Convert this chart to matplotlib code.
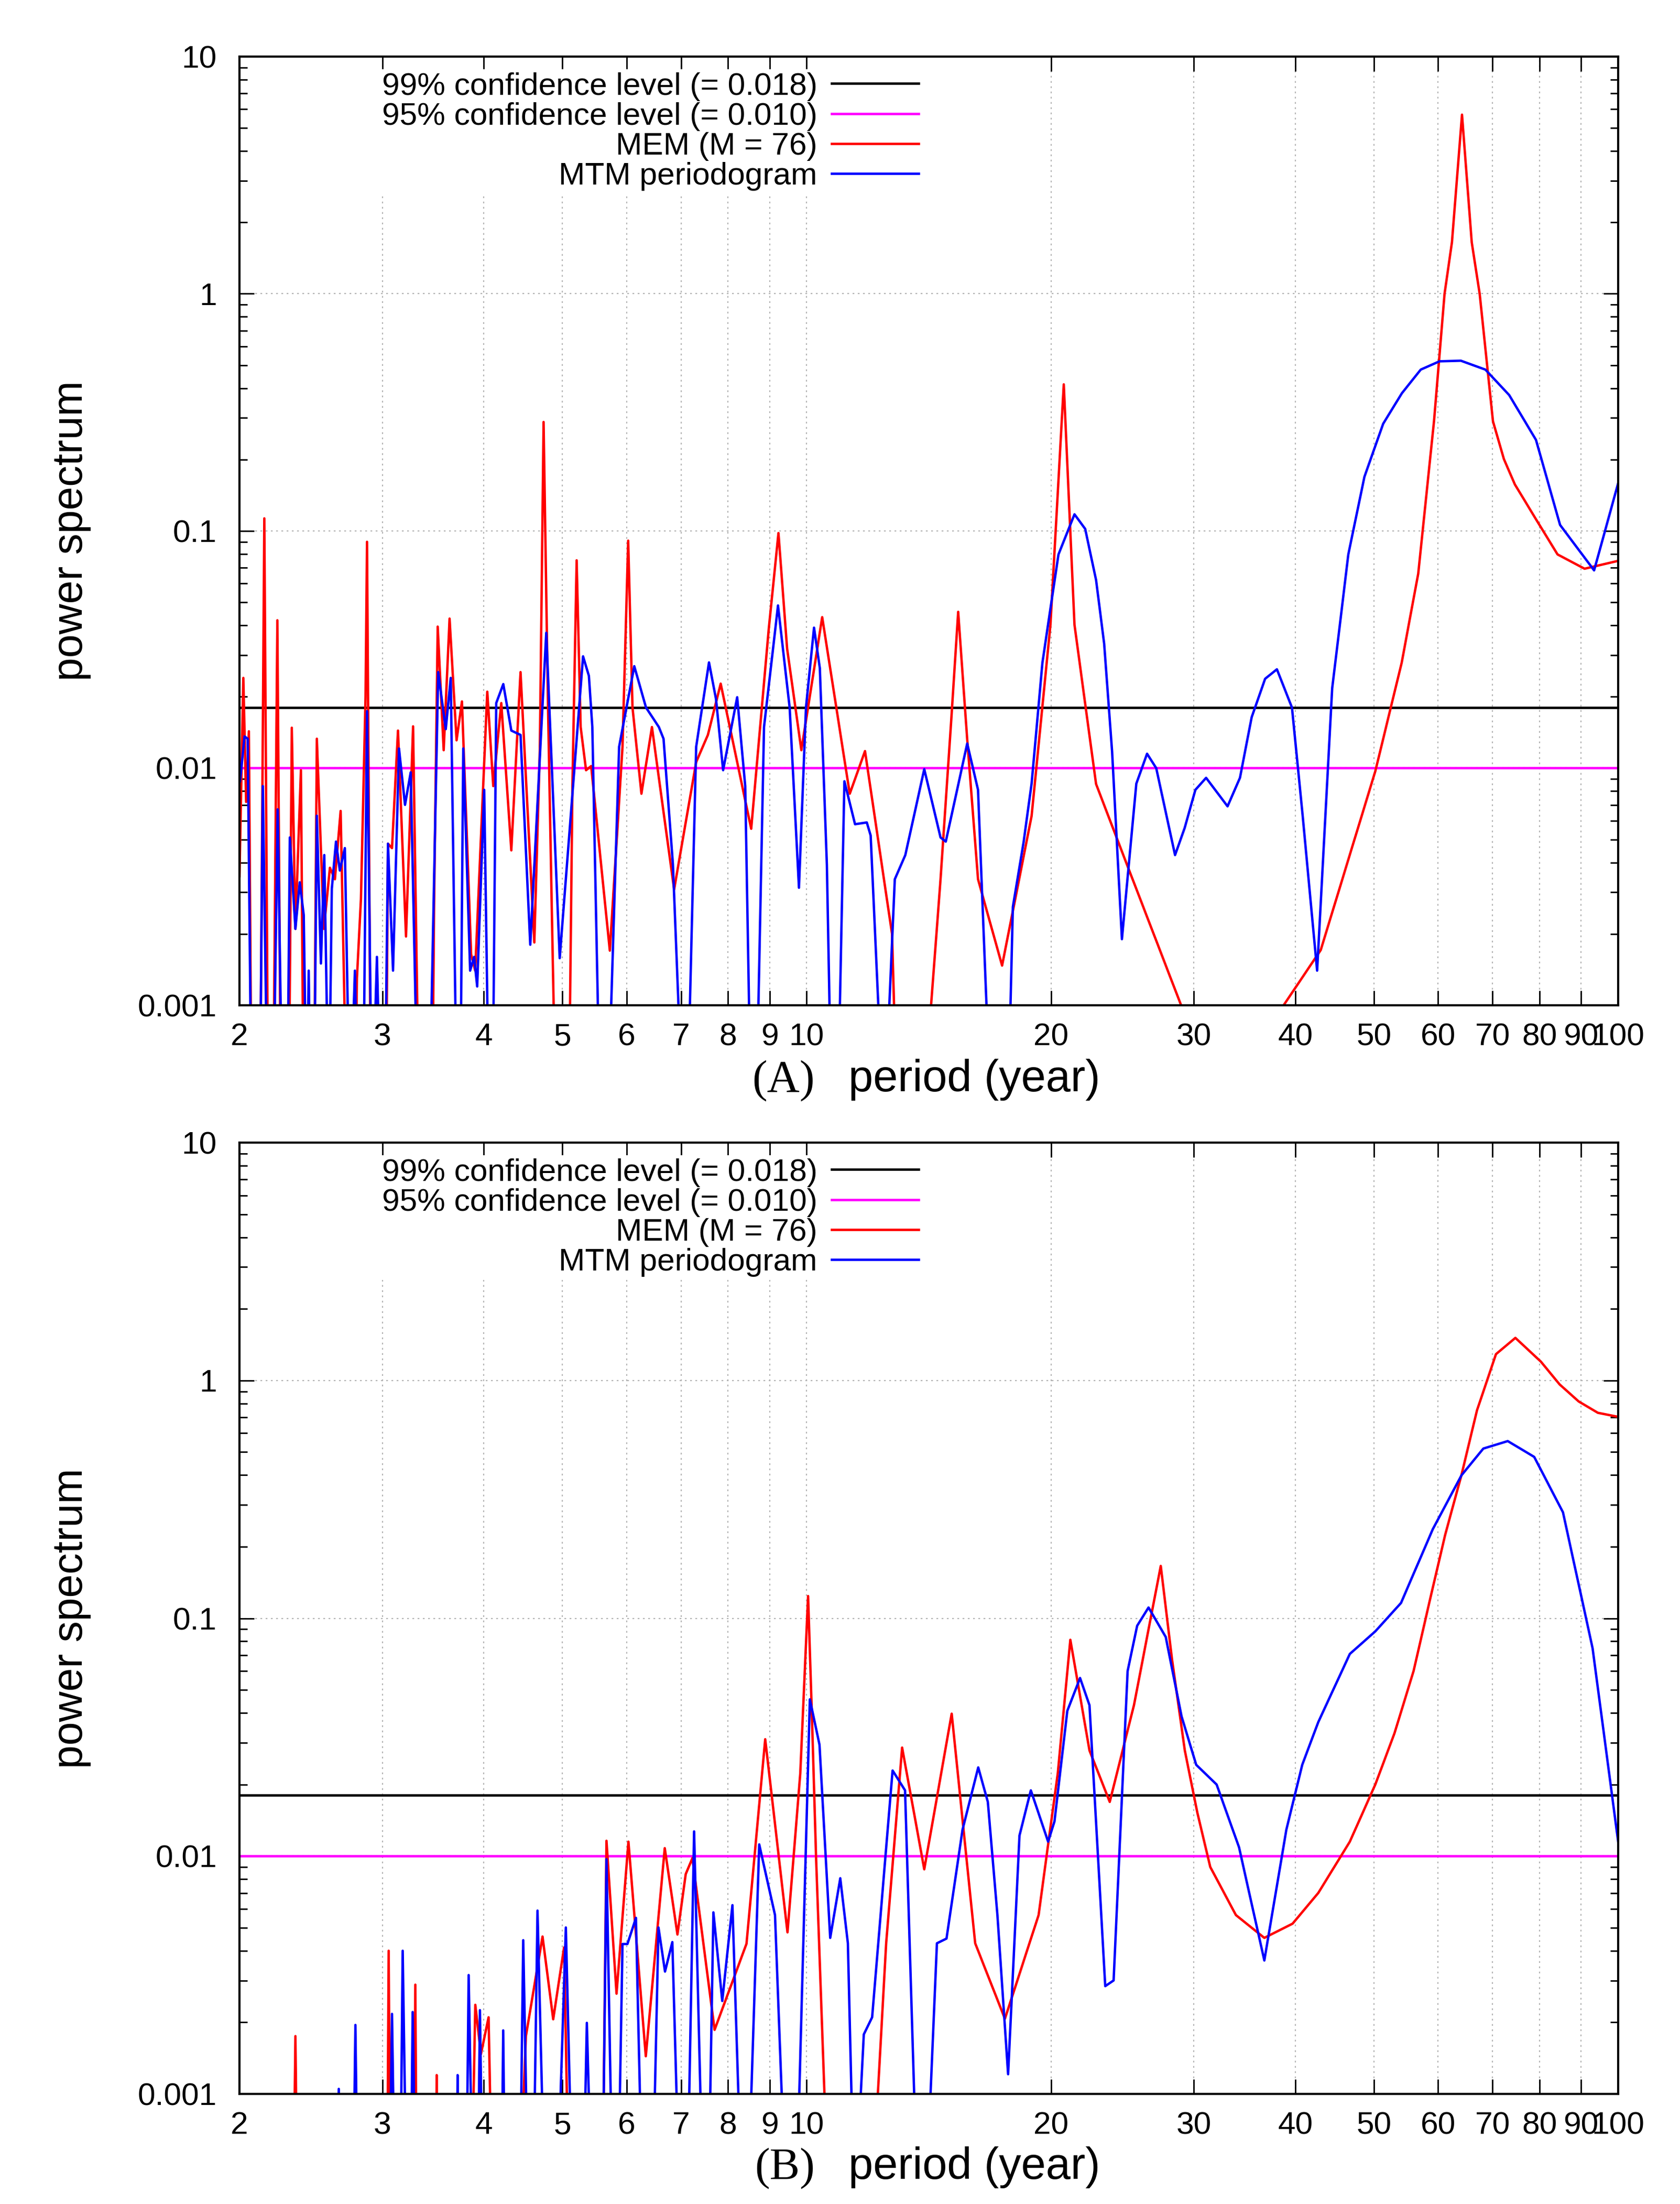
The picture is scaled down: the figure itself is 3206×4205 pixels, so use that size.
import matplotlib
matplotlib.use("Agg")
import matplotlib.pyplot as plt
from matplotlib.ticker import FixedLocator, FixedFormatter, LogLocator, NullFormatter, NullLocator

plt.rcParams['font.family'] = ['Liberation Sans', 'DejaVu Sans']

B = 0.0003  # value below the plotted floor (curve leaves the axes)

# ---------------- data: panel A ----------------
mem_a = [(2.000, 0.0035), (2.022, 0.024), (2.038, 0.0072), (2.054, 0.0143), (2.070, B),
         (2.120, B), (2.146, 0.113), (2.170, B),
         (2.200, B), (2.227, 0.042), (2.250, B),
         (2.300, B), (2.320, 0.0148), (2.344, 0.0021), (2.381, 0.0098), (2.400, B),
         (2.470, B), (2.491, 0.0133), (2.541, 0.0021), (2.585, 0.0038), (2.622, 0.0034),
         (2.665, 0.0066), (2.713, B),
         (2.775, B), (2.791, 0.0013), (2.823, 0.0028), (2.860, 0.020), (2.872, 0.090), (2.904, B),
         (3.030, B), (3.048, 0.0048), (3.083, 0.0046), (3.136, 0.0144), (3.208, 0.00195),
         (3.273, 0.0150), (3.330, B),
         (3.455, B), (3.474, 0.0027), (3.510, 0.0395), (3.570, 0.0119), (3.630, 0.0427),
         (3.703, 0.0131), (3.760, 0.0191), (3.859, 0.00164), (3.904, 0.0014), (4.040, 0.0210),
         (4.109, 0.0084), (4.204, 0.0188), (4.325, 0.0045), (4.440, 0.0254), (4.617, 0.00184),
         (4.690, 0.012), (4.740, 0.288), (4.800, 0.018), (4.850, 0.0027), (4.910, B),
         (5.090, B), (5.144, 0.0084), (5.206, 0.0752), (5.266, 0.0149), (5.347, 0.0098),
         (5.425, 0.0102), (5.720, 0.0017), (5.930, 0.0123), (6.026, 0.091), (6.100, 0.018),
         (6.257, 0.0078), (6.446, 0.0149), (6.865, 0.00308), (7.308, 0.0106), (7.555, 0.0138),
         (7.835, 0.0227), (8.543, 0.00555), (8.980, 0.0387), (9.230, 0.098), (9.460, 0.0319),
         (9.850, 0.0119), (10.45, 0.0433), (11.30, 0.0078), (11.80, 0.0118), (12.74, 0.0020),
         (12.94, B),
         (13.86, B), (14.62, 0.0034), (15.07, 0.0159), (15.37, 0.0456), (15.77, 0.0132),
         (16.26, 0.0034), (17.41, 0.00147), (18.93, 0.00628), (19.97, 0.0402), (20.74, 0.415),
         (21.38, 0.0402), (22.73, 0.00857), (24.53, 0.00434), (29.00, 0.00098), (30.00, B),
         (38.00, B), (38.70, 0.0010), (43.00, 0.00171), (50.20, 0.0097), (54.10, 0.0278),
         (56.70, 0.066), (59.30, 0.29), (61.10, 1.0), (62.40, 1.65), (64.20, 5.69),
         (66.00, 1.65), (67.50, 1.0), (70.10, 0.29), (72.30, 0.201), (74.60, 0.157),
         (79.20, 0.112), (84.20, 0.0796), (90.90, 0.0693), (100.0, 0.0748)]

mtm_a = [(2.003, 0.0088), (2.029, 0.0136), (2.047, 0.0133), (2.070, B),
         (2.118, B), (2.137, 0.0084), (2.167, B),
         (2.200, B), (2.229, 0.0067), (2.260, B),
         (2.290, B), (2.307, 0.0051), (2.344, 0.0021), (2.373, 0.0033), (2.400, 0.0024), (2.421, B),
         (2.434, 0.0014), (2.448, B),
         (2.470, B), (2.491, 0.0063), (2.520, 0.0015), (2.544, 0.0043), (2.577, B),
         (2.599, 0.0031), (2.630, 0.0049), (2.659, 0.0037), (2.697, 0.0046), (2.736, B),
         (2.775, 0.0014), (2.799, B),
         (2.840, B), (2.872, 0.0174), (2.913, B), (2.954, 0.0016), (2.988, B),
         (3.020, B), (3.048, 0.0048), (3.092, 0.0014), (3.145, 0.0121), (3.199, 0.0070),
         (3.251, 0.0096), (3.320, B),
         (3.425, B), (3.515, 0.0254), (3.591, 0.0146), (3.642, 0.024), (3.709, B),
         (3.740, B), (3.774, 0.0121), (3.848, 0.0014), (3.892, 0.0016), (3.926, 0.0012),
         (4.005, 0.0081), (4.062, B),
         (4.100, B), (4.144, 0.0188), (4.228, 0.0226), (4.325, 0.0144), (4.440, 0.0138),
         (4.564, 0.0018), (4.776, 0.0372), (4.962, 0.00158), (5.302, 0.0296), (5.390, 0.0245),
         (5.443, 0.0149), (5.568, B),
         (5.680, B), (5.873, 0.0123), (6.131, 0.0269), (6.339, 0.018), (6.574, 0.0149),
         (6.662, 0.0133), (6.841, 0.00394), (7.048, B),
         (7.118, B), (7.308, 0.0123), (7.579, 0.0279), (7.732, 0.0195), (7.889, 0.0098),
         (8.210, 0.0199), (8.400, 0.0084), (8.543, B),
         (8.658, B), (8.860, 0.0149), (9.218, 0.0485), (9.528, 0.018), (9.783, 0.00313),
         (9.980, 0.018), (10.21, 0.0391), (10.38, 0.0264), (10.59, 0.0039), (10.74, B),
         (10.91, B), (11.13, 0.0088), (11.47, 0.0058), (11.86, 0.0059), (11.99, 0.0052), (12.45, B),
         (12.84, 0.0034), (13.23, 0.0043), (13.96, 0.0099), (14.62, 0.0051), (14.84, 0.0049),
         (15.77, 0.0127), (16.26, 0.0081), (16.89, B),
         (17.68, B), (17.95, 0.0026), (18.51, 0.0049), (18.93, 0.0086), (19.52, 0.0278),
         (20.43, 0.0796), (21.38, 0.1175), (22.04, 0.102), (22.73, 0.0621), (23.26, 0.0334),
         (23.79, 0.0117), (24.46, 0.0019), (25.48, 0.0086), (26.27, 0.0115), (26.96, 0.0100),
         (28.44, 0.0043), (29.23, 0.0056), (30.13, 0.0081), (31.06, 0.0091), (33.01, 0.0069),
         (34.19, 0.0091), (35.35, 0.0164), (36.72, 0.0238), (37.97, 0.0261), (39.63, 0.018),
         (40.85, 0.0063), (42.56, 0.0014), (44.42, 0.0217), (46.50, 0.0796), (48.67, 0.169),
         (51.33, 0.283), (54.14, 0.381), (57.11, 0.479), (60.23, 0.519), (64.00, 0.522),
         (68.60, 0.479), (73.40, 0.374), (79.20, 0.242), (84.80, 0.106), (93.40, 0.0682),
         (100.0, 0.159)]

# ---------------- data: panel B ----------------
mem_b = [(2.000, B), (2.330, B), (2.344, 0.00175), (2.358, B),
         (3.040, B), (3.054, 0.0040), (3.068, B),
         (3.280, B), (3.294, 0.00288), (3.308, B),
         (3.490, B), (3.500, 0.0012), (3.510, B),
         (3.860, B), (3.905, 0.00237), (3.968, 0.00147), (4.055, 0.0021), (4.100, B),
         (4.420, B), (4.508, 0.00175), (4.726, 0.00459), (4.871, 0.00206), (5.024, 0.00413),
         (5.097, B),
         (5.600, B), (5.666, 0.0116), (5.830, 0.00264), (6.030, 0.0115), (6.335, 0.00144),
         (6.685, 0.0108), (6.930, 0.00468), (7.095, 0.0084), (7.230, 0.0098), (7.700, 0.00186),
         (8.430, 0.00428), (8.890, 0.031), (9.470, 0.00478), (9.820, 0.0223), (10.04, 0.124),
         (10.15, 0.0387), (10.27, 0.0098), (10.65, B),
         (12.00, B), (12.53, 0.0043), (13.11, 0.0286), (13.96, 0.0088), (15.09, 0.0397),
         (16.13, 0.0043), (17.55, 0.00207), (19.31, 0.00565), (20.39, 0.0223), (21.13, 0.0812),
         (22.31, 0.0278), (23.63, 0.0169), (25.31, 0.0431), (27.31, 0.166), (28.20, 0.067),
         (29.24, 0.0278), (30.30, 0.0152), (31.43, 0.0090), (33.80, 0.00565), (36.64, 0.00453),
         (39.70, 0.0052), (42.70, 0.0070), (46.70, 0.0115), (50.20, 0.0200), (53.00, 0.0328),
         (55.96, 0.060), (58.50, 0.116), (61.20, 0.224), (64.10, 0.40), (67.00, 0.75),
         (70.70, 1.29), (74.70, 1.51), (80.30, 1.20), (84.70, 0.962), (89.40, 0.816),
         (94.40, 0.731), (100.0, 0.703)]

mtm_b = [(2.000, B), (2.640, B), (2.651, 0.00105), (2.662, B),
         (2.760, B), (2.779, 0.00195), (2.798, B),
         (3.060, B), (3.083, 0.00217), (3.110, B),
         (3.155, B), (3.178, 0.0040), (3.215, B),
         (3.250, B), (3.269, 0.00221), (3.300, B),
         (3.700, B), (3.714, 0.0012), (3.728, B),
         (3.805, B), (3.832, 0.00316), (3.880, B),
         (3.930, B), (3.957, 0.00225), (3.990, B),
         (4.205, B), (4.227, 0.00185), (4.250, B),
         (4.430, B), (4.474, 0.00443), (4.540, B),
         (4.600, B), (4.659, 0.0059), (4.760, B),
         (4.920, B), (5.049, 0.00501), (5.150, B),
         (5.300, B), (5.359, 0.00199), (5.440, B),
         (5.600, B), (5.666, 0.0097), (5.770, B),
         (5.850, B), (5.930, 0.00427), (6.013, 0.00427), (6.160, 0.0055), (6.280, B),
         (6.450, B), (6.567, 0.00501), (6.690, 0.00327), (6.830, 0.00435), (6.980, B),
         (7.120, B), (7.265, 0.0127), (7.460, B),
         (7.560, B), (7.674, 0.0058), (7.870, 0.00246), (8.100, 0.00622), (8.330, B),
         (8.450, B), (8.740, 0.0112), (9.140, 0.00565), (9.440, B),
         (9.700, B), (10.09, 0.0456), (10.37, 0.0294), (10.69, 0.00453), (11.00, 0.00807),
         (11.24, 0.0043), (11.45, B), (11.76, 0.00178), (12.04, 0.0021), (12.76, 0.0229),
         (13.22, 0.0189), (13.71, B),
         (14.00, B), (14.47, 0.0043), (14.87, 0.0045), (15.56, 0.0129), (16.27, 0.0236),
         (16.72, 0.0169), (17.18, 0.00565), (17.71, 0.00121), (18.29, 0.0122), (18.89, 0.0189),
         (19.84, 0.0115), (20.20, 0.0140), (20.95, 0.0408), (21.72, 0.0561), (22.31, 0.0431),
         (23.33, 0.00284), (23.89, 0.0030), (24.86, 0.060), (25.54, 0.093), (26.38, 0.111),
         (27.70, 0.0834), (28.97, 0.0387), (30.20, 0.0242), (32.00, 0.0200), (34.10, 0.0109),
         (36.64, 0.00364), (39.00, 0.0129), (40.80, 0.0242), (42.70, 0.0366), (46.70, 0.0708),
         (50.20, 0.0881), (54.00, 0.116), (59.10, 0.237), (64.10, 0.399), (68.20, 0.517),
         (73.10, 0.556), (78.80, 0.477), (85.50, 0.279), (93.00, 0.0748), (100.0, 0.0115)]

conf99 = 0.018
conf95 = 0.010
legend_labels = ['99% confidence level (= 0.018)', '95% confidence level (= 0.010)',
                 'MEM (M = 76)', 'MTM periodogram']
x_ticks = [2, 3, 4, 5, 6, 7, 8, 9, 10, 20, 30, 40, 50, 60, 70, 80, 90, 100]
x_tick_labels = [str(t) for t in x_ticks]
y_ticks = [0.001, 0.01, 0.1, 1, 10]
y_tick_labels = ['0.001', '0.01', '0.1', '1', '10']
panel_tags = ['(A)', '(B)']

fig = plt.figure(figsize=(32.06, 42.05), dpi=100)
ax_a = fig.add_axes([0.14255, 0.54388, 0.82065, 0.43044])
ax_b = fig.add_axes([0.14255, 0.04994, 0.82065, 0.43163])

LW = 3.3
FS = 43.5
for ax, mem, mtm, tag, lab_y in [(ax_a, mem_a, mtm_a, panel_tags[0], -0.0906),
                                 (ax_b, mem_b, mtm_b, panel_tags[1], -0.0893)]:
    ax.set_xscale('log')
    ax.set_yscale('log')
    ax.set_xlim(2, 100)
    ax.set_ylim(0.001, 10)

    h1 = ax.axhline(conf99, color='black', lw=LW, zorder=2)
    h2 = ax.axhline(conf95, color='#ff00ff', lw=LW, zorder=2)
    pm, vm = zip(*mem)
    h3, = ax.plot(pm, vm, color='#ff0000', lw=LW, zorder=3)
    pt, vt = zip(*mtm)
    h4, = ax.plot(pt, vt, color='#0000ff', lw=LW, zorder=4)

    ax.xaxis.set_major_locator(FixedLocator(x_ticks))
    ax.xaxis.set_major_formatter(FixedFormatter(x_tick_labels))
    ax.xaxis.set_minor_locator(NullLocator())
    ax.yaxis.set_major_locator(FixedLocator(y_ticks))
    ax.yaxis.set_major_formatter(FixedFormatter(y_tick_labels))
    ax.yaxis.set_minor_locator(LogLocator(base=10, subs=range(2, 10)))
    ax.yaxis.set_minor_formatter(NullFormatter())

    ax.tick_params(which='both', direction='in', top=True, right=True, width=2.0, colors='black')
    ax.tick_params(which='major', length=20, labelsize=FS)
    ax.tick_params(which='minor', length=11)
    ax.tick_params(axis='x', which='major', pad=24)
    ax.tick_params(axis='y', which='major', pad=31)

    ax.grid(True, which='major', linestyle=(0, (1.5, 3.0)), color='#b4b4b4', lw=1.6, zorder=0)
    ax.set_axisbelow(True)
    for s in ax.spines.values():
        s.set_linewidth(3.0)
        s.set_zorder(6)

    leg = ax.legend([h1, h2, h3, h4], legend_labels, loc='upper right',
                    bbox_to_anchor=(0.4949, 0.9870), bbox_transform=ax.transAxes,
                    markerfirst=False, frameon=True, fancybox=False, framealpha=1,
                    facecolor='white', edgecolor='none', borderpad=0.1, borderaxespad=0,
                    handlelength=2.75, handletextpad=0.45, labelspacing=0.035, fontsize=FS)
    leg.set_zorder(5)

    ax.text(-0.122, 0.5, 'power spectrum', rotation=90, ha='center', va='center',
            fontsize=58, transform=ax.transAxes)
    ax.text(0.4173, lab_y, tag, ha='right', va='baseline', fontsize=62,
            family=['Liberation Serif', 'DejaVu Serif'], transform=ax.transAxes)
    ax.text(0.4417, lab_y, 'period (year)', ha='left', va='baseline', fontsize=61,
            transform=ax.transAxes)

fig.savefig('out.png', dpi=100, facecolor='white')
